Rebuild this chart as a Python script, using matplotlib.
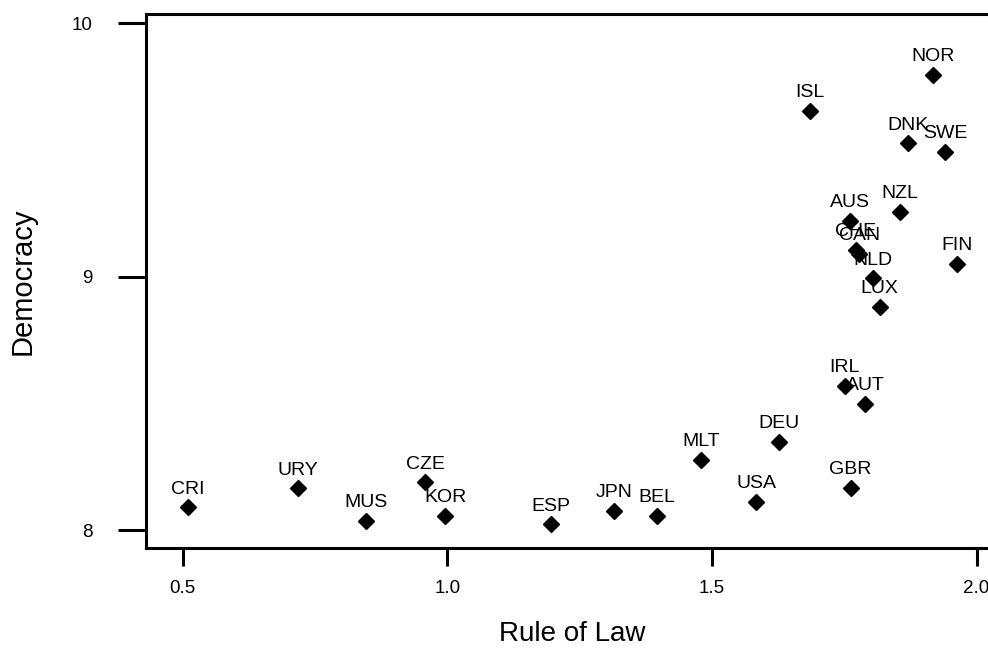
import matplotlib
matplotlib.use('Agg')
import matplotlib.pyplot as plt

# Data
countries = ["CRI", "URY", "MUS", "CZE", "KOR", "ESP", "JPN", "BEL", "MLT", "USA",
             "DEU", "IRL", "AUT", "GBR", "NOR", "ISL", "DNK", "SWE", "NZL", "AUS",
             "CHE", "CAN", "FIN", "NLD", "LUX"]
rule_of_law = [0.51, 0.717, 0.846, 0.958, 0.996, 1.195, 1.315, 1.396, 1.479, 1.584,
               1.627, 1.751, 1.790, 1.762, 1.918, 1.685, 1.871, 1.940, 1.855, 1.760,
               1.772, 1.778, 1.963, 1.805, 1.817]
democracy = [8.089, 8.164, 8.036, 8.188, 8.055, 8.022, 8.075, 8.055, 8.276, 8.111,
             8.348, 8.568, 8.496, 8.167, 9.796, 9.654, 9.526, 9.491, 9.254, 9.220,
             9.105, 9.089, 9.052, 8.993, 8.881]
x_ticks = [0.5, 1.0, 1.5, 2.0]
x_tick_labels = ["0.5", "1.0", "1.5", "2.0"]
y_ticks = [8, 9, 10]

plt.rcParams['font.family'] = ['Liberation Sans', 'DejaVu Sans']

fig = plt.figure(figsize=(9.88, 6.49), dpi=100)
ax = fig.add_axes([0.1475, 0.1552, 0.8525, 0.8232])

ax.plot(rule_of_law, democracy, linestyle='none', marker='D', markersize=8,
        color='black')

for name, x, y in zip(countries, rule_of_law, democracy):
    ax.annotate(name, (x, y), textcoords='offset points', xytext=(0, 10),
                ha='center', va='baseline', fontsize=14)

ax.set_xlim(0.430, 2.0215)
ax.set_ylim(7.928, 10.037)
ax.set_xticks(x_ticks)
ax.set_xticklabels(x_tick_labels)
ax.set_yticks(y_ticks)

for side in ['left', 'bottom', 'top']:
    ax.spines[side].set_linewidth(2.2)
ax.spines['right'].set_visible(False)

ax.tick_params(axis='y', direction='out', length=20, width=2.2, pad=18, labelsize=13.5)
ax.tick_params(axis='x', direction='out', length=13, width=2.2, pad=10, labelsize=13.5)

ax.set_xlabel('Rule of Law', fontsize=20, va='center')
ax.xaxis.set_label_coords(0.506, -0.160)
ax.set_ylabel('Democracy', fontsize=21, va='center')
ax.yaxis.set_label_coords(-0.1457, 0.5)

fig.savefig('out.png', dpi=100)
